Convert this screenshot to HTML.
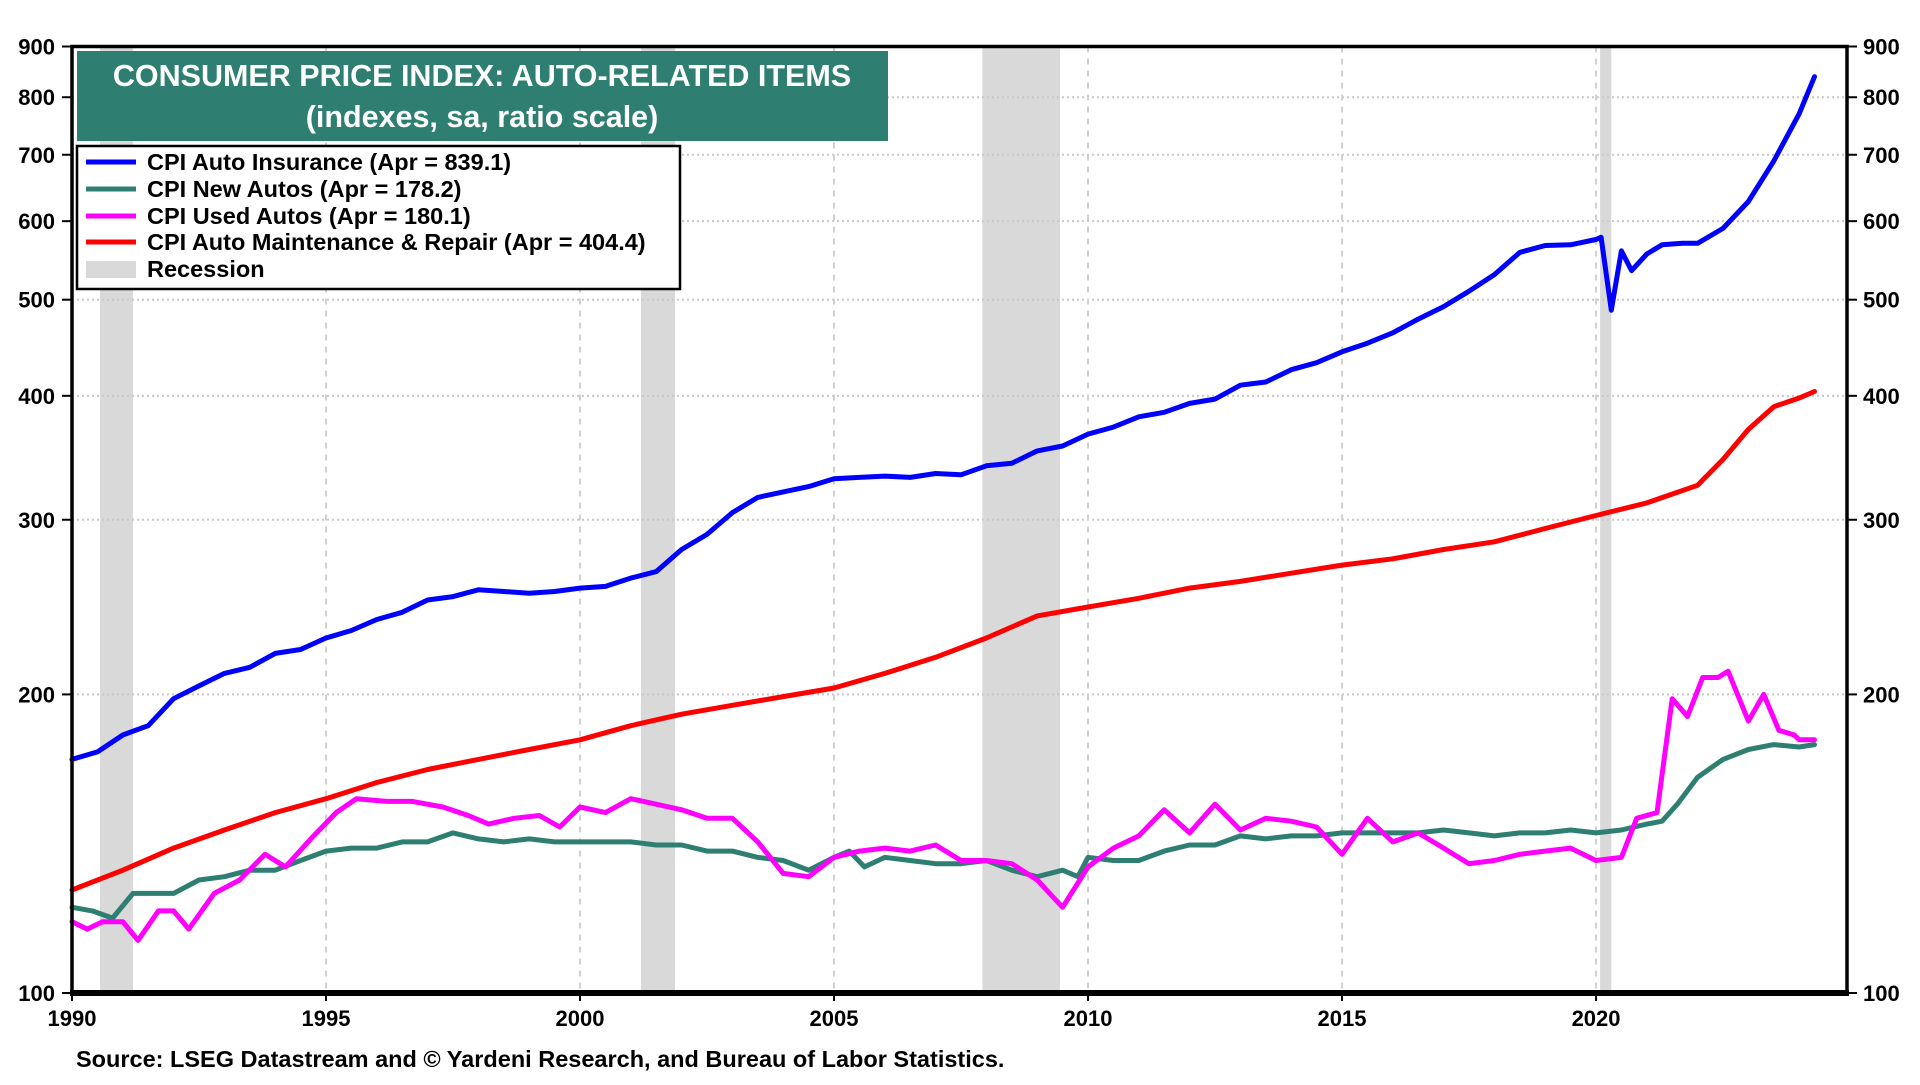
<!DOCTYPE html>
<html><head><meta charset="utf-8">
<style>
html,body{margin:0;padding:0;background:#fff;}
body{width:1920px;height:1080px;overflow:hidden;font-family:"Liberation Sans",Arial,sans-serif;}
svg text{font-family:"Liberation Sans",Arial,sans-serif;font-weight:bold;}
</style></head>
<body>
<svg id="chart" width="1920" height="1080" viewBox="0 0 1920 1080" xmlns="http://www.w3.org/2000/svg">
<g id="recessions"></g>
<g id="grid"></g>
<g id="series"></g>
<rect x="72" y="46.5" width="1775" height="946.5" fill="none" stroke="#000" stroke-width="3.5"/>
<line x1="70" y1="993" x2="1849" y2="993" stroke="#000" stroke-width="6"/>
<g id="yticks"></g>
<g id="xticks"></g>
<g>
<rect x="77" y="51" width="811" height="90" fill="#2e7f71"/>
<text x="482" y="86" text-anchor="middle" font-size="30.5" fill="#fff">CONSUMER PRICE INDEX: AUTO-RELATED ITEMS</text>
<text x="482" y="127" text-anchor="middle" font-size="30.5" fill="#fff">(indexes, sa, ratio scale)</text>
</g>
<g>
<rect x="77" y="146" width="603" height="143" fill="#fff" stroke="#000" stroke-width="2.5"/>
<g><line x1="86" y1="162" x2="136" y2="162" stroke="#0000ff" stroke-width="5"/><text x="147" y="170" font-size="23.5">CPI Auto Insurance (Apr = 839.1)</text></g>
<g><line x1="86" y1="189" x2="136" y2="189" stroke="#2e7f71" stroke-width="5"/><text x="147" y="197" font-size="23.5">CPI New Autos (Apr = 178.2)</text></g>
<g><line x1="86" y1="216" x2="136" y2="216" stroke="#ff00ff" stroke-width="5"/><text x="147" y="224" font-size="23.5">CPI Used Autos (Apr = 180.1)</text></g>
<g><line x1="86" y1="242" x2="136" y2="242" stroke="#ff0000" stroke-width="5"/><text x="147" y="250" font-size="23.5">CPI Auto Maintenance &amp; Repair (Apr = 404.4)</text></g>
<g><rect x="86" y="261" width="50" height="17" fill="#d9d9d9"/><text x="147" y="277" font-size="23.5">Recession</text></g>
</g>
<text x="76" y="1067" font-size="23.5">Source: LSEG Datastream and © Yardeni Research, and Bureau of Labor Statistics.</text>
</svg>
<script>
const recessionStarts=[1990.55,2001.2,2007.92,2020.08];
const recessionEnds=[1991.2,2001.87,2009.45,2020.3];
const yTickValues=[100,200,300,400,500,600,700,800,900];
const xTickYears=[1990,1995,2000,2005,2010,2015,2020];
const insYears=[1990,1990.5,1991,1991.5,1992,1992.5,1993,1993.5,1994,1994.5,1995,1995.5,1996,1996.5,1997,1997.5,1998,1998.5,1999,1999.5,2000,2000.5,2001,2001.5,2002,2002.5,2003,2003.5,2004,2004.5,2005,2005.5,2006,2006.5,2007,2007.5,2008,2008.5,2009,2009.5,2010,2010.5,2011,2011.5,2012,2012.5,2013,2013.5,2014,2014.5,2015,2015.5,2016,2016.5,2017,2017.5,2018,2018.5,2019,2019.5,2020,2020.1,2020.3,2020.5,2020.7,2021,2021.3,2021.7,2022,2022.5,2023,2023.5,2024,2024.3];
const insValues=[172,175,182,186,198,204,210,213,220,222,228,232,238,242,249,251,255,254,253,254,256,257,262,266,280,290,305,316,320,324,330,331,332,331,334,333,340,342,352,356,366,372,381,385,393,397,410,413,425,432,443,452,463,478,492,510,530,558,567,568,575,578,488,560,535,556,568,570,570,590,628,690,770,839];
const newYears=[1990,1990.4,1990.8,1991.2,1991.6,1992,1992.5,1993,1993.5,1994,1994.5,1995,1995.5,1996,1996.5,1997,1997.5,1998,1998.5,1999,1999.5,2000,2000.5,2001,2001.5,2002,2002.5,2003,2003.5,2004,2004.5,2005,2005.3,2005.6,2006,2006.5,2007,2007.5,2008,2008.5,2009,2009.5,2009.8,2010,2010.5,2011,2011.5,2012,2012.5,2013,2013.5,2014,2014.5,2015,2015.5,2016,2016.5,2017,2017.5,2018,2018.5,2019,2019.5,2020,2020.5,2021,2021.3,2021.6,2022,2022.5,2023,2023.5,2024,2024.3];
const newValues=[122,121,119,126,126,126,130,131,133,133,136,139,140,140,142,142,145,143,142,143,142,142,142,142,141,141,139,139,137,136,133,137,139,134,137,136,135,135,136,133,131,133,131,137,136,136,139,141,141,144,143,144,144,145,145,145,145,146,145,144,145,145,146,145,146,148,149,155,165,172,176,178,177,178];
const usedYears=[1990,1990.3,1990.6,1991,1991.3,1991.7,1992,1992.3,1992.8,1993.3,1993.8,1994.2,1994.7,1995.2,1995.6,1996.2,1996.7,1997.3,1997.8,1998.2,1998.7,1999.2,1999.6,2000,2000.5,2001,2001.5,2002,2002.5,2003,2003.5,2004,2004.5,2005,2005.5,2006,2006.5,2007,2007.5,2008,2008.5,2009,2009.5,2010,2010.5,2011,2011.5,2012,2012.5,2013,2013.5,2014,2014.5,2015,2015.5,2016,2016.5,2017,2017.5,2018,2018.5,2019,2019.5,2020,2020.5,2020.8,2021.2,2021.5,2021.8,2022.1,2022.4,2022.6,2023,2023.3,2023.6,2023.9,2024,2024.3];
const usedValues=[118,116,118,118,113,121,121,116,126,130,138,134,143,152,157,156,156,154,151,148,150,151,147,154,152,157,155,153,150,150,142,132,131,137,139,140,139,141,136,136,135,130,122,134,140,144,153,145,155,146,150,149,147,138,150,142,145,140,135,136,138,139,140,136,137,150,152,198,190,208,208,211,188,200,184,182,180,180];
const maintYears=[1990,1991,1992,1993,1994,1995,1996,1997,1998,1999,2000,2001,2002,2003,2004,2005,2006,2007,2008,2009,2010,2011,2012,2013,2014,2015,2016,2017,2018,2019,2020,2021,2022,2022.5,2023,2023.5,2024,2024.3];
const maintValues=[127,133,140,146,152,157,163,168,172,176,180,186,191,195,199,203,210,218,228,240,245,250,256,260,265,270,274,280,285,294,303,312,325,345,370,390,398,404];

const NS="http://www.w3.org/2000/svg";
const X0=72,X1=1847,Y0=993,Y1=46.5,YR0=1990,YR1=2024.94;
function xScale(yr){return X0+(yr-YR0)/(YR1-YR0)*(X1-X0);}
function yScale(v){return Y0-Math.log(v/100)/Math.log(9)*(Y0-Y1);}
function mk(tag,attrs,parent){const e=document.createElementNS(NS,tag);for(const k in attrs)e.setAttribute(k,attrs[k]);parent.appendChild(e);return e;}

const rg=document.getElementById('recessions');
recessionStarts.forEach((s,i)=>{
 const r=mk('rect',{x:xScale(s),y:Y1,width:xScale(recessionEnds[i])-xScale(s),height:Y0-Y1,fill:'#d9d9d9'},rg);
 
 
});
const gg=document.getElementById('grid');
yTickValues.forEach(v=>{
 if(v===100)return;
 const l=mk('line',{x1:X0,x2:X1,y1:yScale(v),y2:yScale(v),stroke:'#c8c8c8','stroke-width':2,'stroke-dasharray':'2,3'},gg);
 
 
});
xTickYears.forEach(y=>{
 if(y===1990)return;
 const l=mk('line',{x1:xScale(y),x2:xScale(y),y1:Y1,y2:Y0,stroke:'#d0d0d0','stroke-width':2,'stroke-dasharray':'6,6'},gg);
 
 
});
const sg=document.getElementById('series');
function line(xs,vs,color,name){
 const d=xs.map((x,i)=>(i?'L':'M')+xScale(x).toFixed(1)+','+yScale(vs[i]).toFixed(1)).join(' ');
 const p=mk('path',{d:d,fill:'none',stroke:color,'stroke-width':5,'stroke-linejoin':'round','stroke-linecap':'round'},sg);
 
 
}
line(maintYears,maintValues,'#ff0000','maintenance-line');
line(newYears,newValues,'#2e7f71','new-autos-line');
line(usedYears,usedValues,'#ff00ff','used-autos-line');
line(insYears,insValues,'#0000ff','insurance-line');

const yt=document.getElementById('yticks');
yTickValues.forEach(v=>{
 const y=yScale(v);
 const a=mk('text',{x:55,y:y+8,'text-anchor':'end','font-size':22},yt);a.textContent=v;
 
 
 const b=mk('text',{x:1863,y:y+8,'text-anchor':'start','font-size':22},yt);b.textContent=v;
 
 
 mk('line',{x1:62,x2:72,y1:y,y2:y,stroke:'#000','stroke-width':2},yt);
 mk('line',{x1:1847,x2:1857,y1:y,y2:y,stroke:'#000','stroke-width':2},yt);
});
const xt=document.getElementById('xticks');
xTickYears.forEach(yr=>{
 const x=xScale(yr);
 const t=mk('text',{x:x,y:1026,'text-anchor':'middle','font-size':22},xt);t.textContent=yr;
 
 
 mk('line',{x1:x,x2:x,y1:993,y2:1001,stroke:'#000','stroke-width':2},xt);
});
</script>
</body></html>
